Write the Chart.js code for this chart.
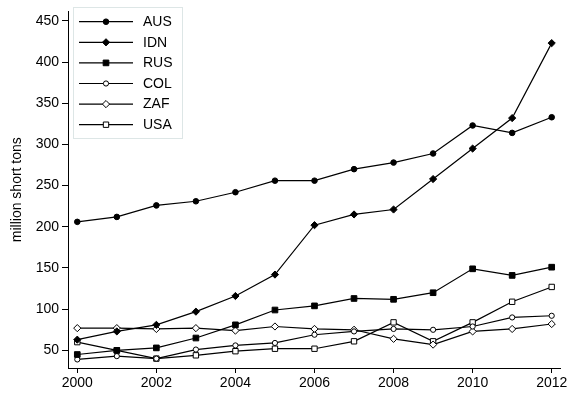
<!DOCTYPE html>
<html>
<head>
<meta charset="utf-8">
<script src="https://cdn.jsdelivr.net/npm/chart.js@4/dist/chart.umd.min.js"></script>
<style>
  html, body { margin: 0; padding: 0; background: #fff; }
  #wrap { width: 575px; height: 396px; }
</style>
</head>
<body>
<div id="wrap"><canvas id="c" width="575" height="396"></canvas></div>
<script>
// Coal production by country, million short tons
const years = [2000, 2001, 2002, 2003, 2004, 2005, 2006, 2007, 2008, 2009, 2010, 2011, 2012];
const AUS = [206, 212, 226, 231, 242, 256, 256, 270, 278, 289, 323, 314, 333];
const IDN = [63, 73, 81, 97, 116, 142, 202, 215, 221, 258, 295, 332, 423];
const RUS = [45, 50, 53, 65, 81, 99, 104, 113, 112, 120, 149, 141, 151];
const COL = [39, 43, 40, 51, 56, 59, 69, 73, 76, 75, 79, 90, 92];
const ZAF = [77, 77, 76, 77, 74, 79, 76, 75, 64, 57, 73, 76, 82];
const USA = [60, 50, 40, 44, 49, 52, 52, 61, 84, 61, 84, 109, 127];
const xTicks = [2000, 2002, 2004, 2006, 2008, 2010, 2012];
const yTicks = [50, 100, 150, 200, 250, 300, 350, 400, 450];
const yTitle = 'million short tons';

const FONT = '"Liberation Sans", Arial, Helvetica, sans-serif';

function series(label, values, style, radius, hollow) {
  return {
    label: label,
    data: years.map((y, i) => ({ x: y, y: values[i] })),
    borderColor: '#000',
    borderWidth: 1.2,
    backgroundColor: hollow ? '#fff' : '#000',
    pointStyle: style,
    pointRadius: radius,
    pointHoverRadius: radius,
    pointBorderWidth: 1,
    pointBorderColor: '#000',
    pointBackgroundColor: hollow ? '#fff' : '#000',
    tension: 0,
    fill: false
  };
}

const datasets = [
  series('AUS', AUS, 'circle', 2.8, false),
  series('IDN', IDN, 'rectRot', 3.6, false),
  series('RUS', RUS, 'rect', 4.0, false),
  series('COL', COL, 'circle', 2.6, true),
  series('ZAF', ZAF, 'rectRot', 3.6, true),
  series('USA', USA, 'rect', 3.8, true)
];

// Legend box drawn in the upper-left corner of the plot, line + marker per entry
const boxLegend = {
  id: 'boxLegend',
  afterDatasetsDraw(chart) {
    const ctx = chart.ctx;
    const bx = 73, by = 7, bw = 109, bh = 131;
    ctx.save();
    ctx.fillStyle = '#fff';
    ctx.fillRect(bx, by, bw, bh);
    ctx.strokeStyle = '#dde6e6';
    ctx.lineWidth = 1;
    ctx.strokeRect(bx + 0.5, by + 0.5, bw, bh);
    chart.data.datasets.forEach((ds, i) => {
      const y = 21.7 + i * 20.6;
      ctx.strokeStyle = '#000';
      ctx.lineWidth = 1.2;
      ctx.beginPath();
      ctx.moveTo(79, y);
      ctx.lineTo(133, y);
      ctx.stroke();
      ctx.fillStyle = ds.pointBackgroundColor;
      ctx.strokeStyle = '#000';
      ctx.lineWidth = 1;
      Chart.helpers.drawPoint(ctx, {
        pointStyle: ds.pointStyle,
        radius: ds.pointRadius,
        borderWidth: 1,
        rotation: 0
      }, 106, y);
      ctx.fillStyle = '#000';
      ctx.font = '14px ' + FONT;
      ctx.textBaseline = 'middle';
      ctx.textAlign = 'left';
      ctx.fillText(ds.label, 143, y + 0.5);
    });
    ctx.restore();
  }
};

new Chart(document.getElementById('c'), {
  type: 'line',
  data: { datasets: datasets },
  plugins: [boxLegend],
  options: {
    responsive: false,
    animation: false,
    events: [],
    layout: { padding: { left: 0, right: 15, top: 3, bottom: 0 } },
    plugins: { legend: { display: false }, tooltip: { enabled: false } },
    scales: {
      x: {
        type: 'linear',
        min: 1999.765,
        max: 2012.21,
        afterBuildTicks(scale) { scale.ticks = xTicks.map(v => ({ value: v })); },
        afterFit(scale) { scale.height = 28; },
        grid: { display: true, drawOnChartArea: false, drawTicks: true, tickLength: 5, color: '#000', lineWidth: 1 },
        border: { display: true, color: '#000', width: 1 },
        ticks: { color: '#000', font: { family: FONT, size: 14 }, padding: 2, maxRotation: 0, callback: v => String(v) }
      },
      y: {
        type: 'linear',
        min: 28.6,
        max: 461.5,
        afterBuildTicks(scale) { scale.ticks = yTicks.map(v => ({ value: v })); },
        afterFit(scale) { scale.width = 68; },
        grid: { display: true, drawOnChartArea: false, drawTicks: true, tickLength: 6, color: '#000', lineWidth: 1 },
        border: { display: true, color: '#000', width: 1 },
        ticks: { color: '#000', font: { family: FONT, size: 14 }, padding: 3, callback: v => String(v) },
        title: { display: true, text: yTitle, color: '#000', font: { family: FONT, size: 14 }, padding: { top: 9, bottom: 0 } }
      }
    }
  }
});
</script>
</body>
</html>
